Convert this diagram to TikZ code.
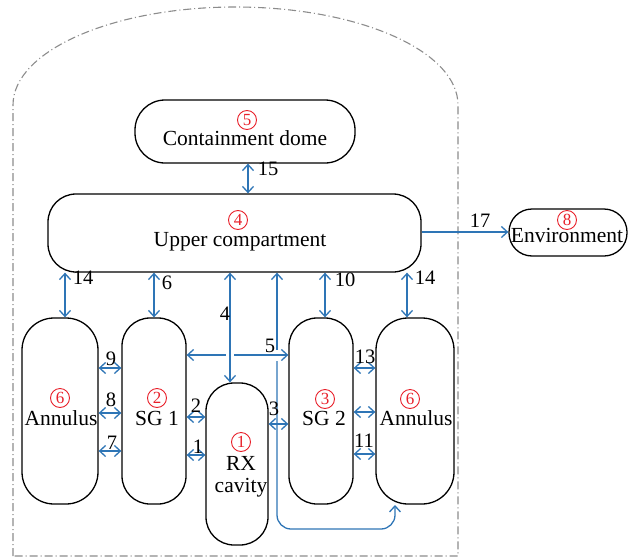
\documentclass[tikz,border=0pt]{standalone}
\usepackage{fontspec}
\setmainfont{Liberation Serif}
\usetikzlibrary{arrows.meta,calc}
\definecolor{linkblue}{RGB}{46,117,182}
\definecolor{tagred}{RGB}{232,32,42}
\definecolor{wallgray}{RGB}{140,140,140}
\begin{document}
\begin{tikzpicture}[x=1pt,y=-1pt,
  vol/.style={draw=black, line width=1.3pt, inner sep=0pt},
  link/.style={draw=linkblue, line width=1.3pt},
  barb/.tip={Straight Barb[length=6pt,width=11pt]},
  both/.style={link, barb-barb},
  fwd/.style={link, -barb},
  bwd/.style={link, barb-},
  tag/.style={circle, draw=tagred, text=tagred, line width=0.9pt,
    minimum size=19pt, inner sep=0pt, font=\fontsize{17}{17}\selectfont},
  txt/.style={anchor=base, inner sep=0pt, font=\fontsize{21.5}{24}\selectfont},
  num/.style={anchor=base, inner sep=0pt, font=\fontsize{20.5}{24}\selectfont}]

\useasboundingbox (0,0) rectangle (637,557);

% containment wall (dash-dot outline with elliptical dome)
\draw[wallgray, line width=1.1pt, dash pattern=on 8pt off 3pt on 1pt off 3pt]
  (13,556) -- (13,105)
  .. controls (13,50.9) and (112.6,7) .. (235.5,7)
  .. controls (358.4,7) and (458,50.9) .. (458,105)
  -- (458,556) -- cycle;

% control volumes
\node[vol, rounded corners=30pt, minimum width=220pt, minimum height=63pt] (dome) at (245,131.5) {};
\node[vol, rounded corners=28pt, minimum width=373pt, minimum height=78pt] (upper) at (234.5,233) {};
\node[vol, rounded corners=23pt, minimum width=118pt, minimum height=47pt] (env) at (568,232.5) {};
\node[vol, rounded corners=32pt, minimum width=76pt, minimum height=186pt] (annL) at (60,411) {};
\node[vol, rounded corners=28pt, minimum width=64pt, minimum height=186pt] (sgA) at (154,411) {};
\node[vol, rounded corners=28pt, minimum width=62pt, minimum height=162pt] (rx) at (237,464) {};
\node[vol, rounded corners=28pt, minimum width=64pt, minimum height=186pt] (sgB) at (321,411) {};
\node[vol, rounded corners=32pt, minimum width=78pt, minimum height=186pt] (annR) at (415,411) {};

% volume numbers and names
\node[tag] (t5) at (247,120) {5};
\node[txt] (n5) at (245,145) {Containment dome};
\node[tag] (t4) at (238,220) {4};
\node[txt] (n4) at (240,246) {Upper compartment};
\node[tag] (t8) at (567,220) {8};
\node[txt] (n8) at (567,242) {Environment};
\node[tag] (t6a) at (60,398) {6};
\node[txt] (n6a) at (61,425) {Annulus};
\node[tag] (t2) at (157,398) {2};
\node[txt] (n2) at (157,425) {SG 1};
\node[tag] (t1) at (241,442) {1};
\node[txt] (n1a) at (241,470) {RX};
\node[txt] (n1b) at (241,492) {cavity};
\node[tag] (t3) at (325,399) {3};
\node[txt] (n3) at (324,425) {SG 2};
\node[tag] (t6b) at (410,399) {6};
\node[txt] (n6b) at (416,425) {Annulus};

% flow paths
\draw[both] (248,0 |- dome.south) -- (248,0 |- upper.north);
\draw[fwd] (upper.east |- 0,232) -- (env.west |- 0,232);
\draw[both] (65,0 |- upper.south) -- (65,0 |- annL.north);
\draw[both] (154,0 |- upper.south) -- (154,0 |- sgA.north);
\draw[both] (230,0 |- upper.south) -- (230,0 |- rx.north);
\draw[both] (325,0 |- upper.south) -- (325,0 |- sgB.north);
\draw[both] (407,0 |- upper.south) -- (407,0 |- annR.north);

\draw[bwd] (sgA.east |- 0,355) -- (226,355);
\draw[fwd] (234,355) -- (sgB.west |- 0,355);

\draw[bwd] (277,0 |- upper.south) -- (277,350);
\draw[fwd, rounded corners=14pt] (277,361) -- (277,529) -- (395,529) -- (395,505);

\draw[both] (annL.east |- 0,368) -- (sgA.west |- 0,368);
\draw[both] (annL.east |- 0,413) -- (sgA.west |- 0,413);
\draw[both] (annL.east |- 0,451) -- (sgA.west |- 0,451);
\draw[both] (sgA.east |- 0,417) -- (rx.west |- 0,417);
\draw[both] (sgA.east |- 0,455) -- (rx.west |- 0,455);
\draw[both] (rx.east |- 0,424) -- (sgB.west |- 0,424);
\draw[both] (sgB.east |- 0,368) -- (annR.west |- 0,368);
\draw[both] (sgB.east |- 0,412) -- (annR.west |- 0,412);
\draw[both] (sgB.east |- 0,454) -- (annR.west |- 0,454);

% path numbers
\node[num] (p15) at (268,175) {15};
\node[num] (p17) at (480,227) {17};
\node[num] (p14a) at (83,284) {14};
\node[num] (p6) at (167,289) {6};
\node[num] (p4) at (225,320) {4};
\node[num] (p5) at (270,352) {5};
\node[num] (p10) at (345,286) {10};
\node[num] (p14b) at (425,284) {14};
\node[num] (p9) at (111,365) {9};
\node[num] (p8) at (111,406) {8};
\node[num] (p7) at (112,449) {7};
\node[num] (p2) at (196,412) {2};
\node[num] (p1) at (198,453) {1};
\node[num] (p3) at (274,415) {3};
\node[num] (p13) at (365,363) {13};
\node[num] (p11) at (364,447) {11};
\end{tikzpicture}
\end{document}
